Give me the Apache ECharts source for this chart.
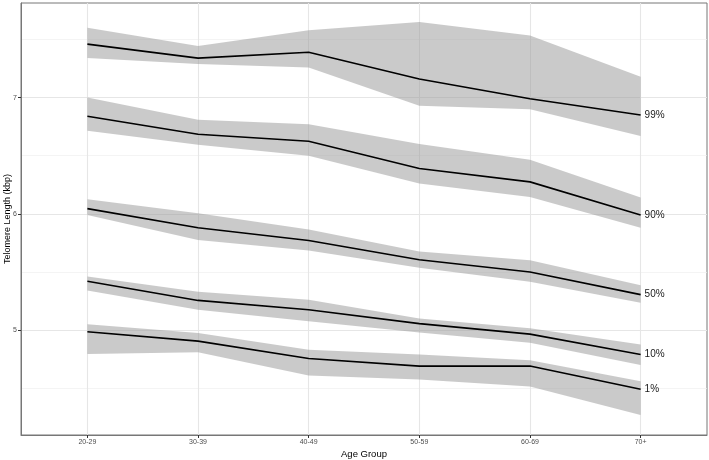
<!DOCTYPE html>
<html>
<head>
<meta charset="utf-8">
<script src="https://cdn.jsdelivr.net/npm/echarts@6/dist/echarts.min.js"></script>
<style>
html,body{margin:0;padding:0;background:#fff;}
#chart{width:709px;height:460px;}
</style>
</head>
<body>
<div id="chart"></div>
<script>
const categories = ['20-29', '30-39', '40-49', '50-59', '60-69', '70+'];
const percentiles = ['99%', '90%', '50%', '10%', '1%'];

const p99 = [7.46, 7.34, 7.39, 7.16, 6.99, 6.85];
const p99Upper = [7.60, 7.445, 7.58, 7.65, 7.535, 7.18];
const p99Lower = [7.34, 7.29, 7.26, 6.93, 6.90, 6.67];

const p90 = [6.84, 6.685, 6.625, 6.39, 6.275, 5.99];
const p90Upper = [7.00, 6.81, 6.77, 6.60, 6.465, 6.14];
const p90Lower = [6.715, 6.595, 6.50, 6.26, 6.145, 5.88];

const p50 = [6.045, 5.88, 5.77, 5.605, 5.50, 5.305];
const p50Upper = [6.125, 6.005, 5.865, 5.675, 5.60, 5.385];
const p50Lower = [5.99, 5.775, 5.685, 5.535, 5.415, 5.235];

const p10 = [5.42, 5.255, 5.175, 5.055, 4.965, 4.79];
const p10Upper = [5.46, 5.33, 5.26, 5.10, 5.015, 4.875];
const p10Lower = [5.34, 5.175, 5.075, 4.98, 4.89, 4.70];

const p1 = [4.985, 4.905, 4.755, 4.69, 4.69, 4.49];
const p1Upper = [5.05, 4.975, 4.83, 4.79, 4.74, 4.56];
const p1Lower = [4.795, 4.81, 4.61, 4.575, 4.515, 4.27];

const yMajorTicks = [5, 6, 7];
const yMinorTicks = [4.5, 5.5, 6.5, 7.5];

const medians = [p99, p90, p50, p10, p1];
const uppers = [p99Upper, p90Upper, p50Upper, p10Upper, p1Upper];
const lowers = [p99Lower, p90Lower, p50Lower, p10Lower, p1Lower];

const chart = echarts.init(document.getElementById('chart'), null, {renderer: 'canvas'});
const catIdx = categories.map((c, i) => i);
const FONT = 'Liberation Sans, Arial, sans-serif';

const series = [];

// gridlines
series.push({
  type: 'line', data: [], z: 0, silent: true,
  markLine: {
    silent: true, symbol: 'none', label: {show: false}, animation: false, z: 0,
    data: [
      ...yMajorTicks.map(v => ({yAxis: v, lineStyle: {color: '#e6e6e6', width: 1.1, type: 'solid'}})),
      ...yMinorTicks.map(v => ({yAxis: v, lineStyle: {color: '#efefef', width: 0.7, type: 'solid'}})),
      ...catIdx.map(v => ({xAxis: v, lineStyle: {color: '#e6e6e6', width: 1.1, type: 'solid'}}))
    ]
  }
});

// bands
percentiles.forEach((p, k) => {
  const up = uppers[k], lo = lowers[k];
  series.push({
    type: 'custom', z: 1, silent: true,
    data: catIdx.map(i => [i, lo[i], up[i]]),
    encode: {x: 0, y: [1, 2]},
    renderItem: function (params, api) {
      if (params.dataIndex !== 0) return null;
      const pts = [];
      catIdx.forEach(i => pts.push(api.coord([i, up[i]])));
      catIdx.slice().reverse().forEach(i => pts.push(api.coord([i, lo[i]])));
      return {type: 'polygon', shape: {points: pts}, style: {fill: 'rgba(150,150,150,0.5)', stroke: null}};
    }
  });
});

// median lines
percentiles.forEach((p, k) => {
  series.push({
    name: p, type: 'line', z: 3, symbol: 'none', silent: true,
    data: catIdx.map(i => [i, medians[k][i]]),
    lineStyle: {color: '#000', width: 1.6},
    endLabel: {show: true, formatter: '{a}', color: '#1a1a1a', fontSize: 10,
      fontFamily: FONT, distance: 4}
  });
});

chart.setOption({
  animation: false,
  backgroundColor: '#fff',
  grid: {left: 21, right: 2, top: 3, bottom: 25, outerBoundsMode: 'none', containLabel: false,
    show: true, borderColor: '#777', borderWidth: 1, backgroundColor: '#fff'},
  xAxis: {
    type: 'value', min: -0.6, max: 5.6,
    name: 'Age Group', nameLocation: 'middle', nameGap: 14, nameMoveOverlap: false,
    nameTextStyle: {fontSize: 9.5, color: '#000', fontFamily: FONT},
    axisLine: {show: true, onZero: false, lineStyle: {color: '#777', width: 1}},
    splitLine: {show: false},
    axisTick: {show: true, customValues: catIdx, length: 3, lineStyle: {color: '#333', width: 1}},
    axisLabel: {customValues: catIdx, formatter: v => categories[Math.round(v)], fontSize: 7, color: '#4d4d4d',
      margin: 4, fontFamily: FONT}
  },
  yAxis: {
    type: 'value', min: 4.097, max: 7.814,
    name: 'Telomere Length (kbp)', nameLocation: 'middle', nameGap: 9, nameMoveOverlap: false,
    nameTextStyle: {fontSize: 9, color: '#000', fontFamily: FONT},
    axisLine: {show: true, onZero: false, lineStyle: {color: '#777', width: 1}},
    splitLine: {show: false},
    axisTick: {show: true, customValues: yMajorTicks, length: 3, lineStyle: {color: '#333', width: 1}},
    axisLabel: {customValues: yMajorTicks, fontSize: 7, color: '#4d4d4d', margin: 4, fontFamily: FONT}
  },
  series: series
});
</script>
</body>
</html>
